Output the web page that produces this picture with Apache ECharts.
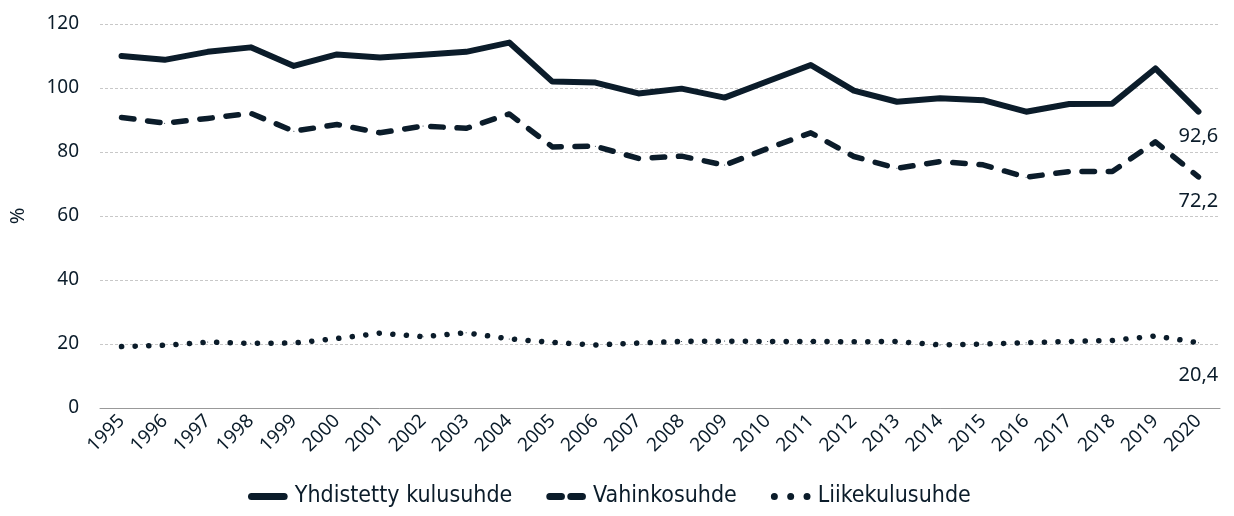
<!DOCTYPE html>
<html>
<head>
<meta charset="utf-8">
<script src="https://cdn.jsdelivr.net/npm/echarts@6/dist/echarts.min.js"></script>
<style>
html,body{margin:0;padding:0;background:#fff;}
#chart{width:1234px;height:516px;}
</style>
</head>
<body>
<div id="chart"></div>
<script>
const years = ['1995','1996','1997','1998','1999','2000','2001','2002','2003','2004','2005','2006','2007','2008','2009','2010','2011','2012','2013','2014','2015','2016','2017','2018','2019','2020'];
const yhdistetty = [110.0,108.8,111.3,112.7,106.9,110.5,109.5,110.4,111.3,114.2,102.0,101.7,98.3,99.8,97.0,102.1,107.2,99.2,95.7,96.8,96.2,92.6,95.0,95.1,106.1,92.6];
const vahinkosuhde = [90.8,89.0,90.5,92.1,86.5,88.6,86.0,88.1,87.4,91.9,81.6,81.8,78.0,78.7,75.9,81.1,86.0,78.6,74.9,77.0,76.0,72.1,73.9,73.9,83.2,72.2];
const liikekulusuhde = [19.2,19.6,20.6,20.2,20.3,21.7,23.4,22.3,23.5,21.6,20.5,19.7,20.3,20.8,20.9,20.8,20.8,20.7,20.8,19.7,20.0,20.4,20.8,21.1,22.5,20.4];
const seriesNames = ['Yhdistetty kulusuhde','Vahinkosuhde','Liikekulusuhde'];
const yTicks = {min:0, max:120, interval:20};

const C = '#0b1c2a';
const FONT = 'Noto Sans';
const LFONT = '"Liberation Sans Narrow", "DejaVu Sans Condensed", "Noto Sans"';

function withEndLabel(arr, dist){
  return arr.map((v,i)=> i===arr.length-1 ? {
    value:v,
    label:{show:true, position:'bottom', distance:dist, formatter:(p)=>String(p.value).replace('.',','), color:C, fontSize:20, fontFamily:FONT}
  } : v);
}

const icons = [
  'path://M3,0 H31 A3,3 0 0 1 31,6 H3 A3,3 0 0 1 3,0 Z',
  'path://M3,0 H13 A3,3 0 0 1 13,6 H3 A3,3 0 0 1 3,0 Z M21,0 H31 A3,3 0 0 1 31,6 H21 A3,3 0 0 1 21,0 Z',
  'path://M3,0 A3,3 0 1 1 3,6 A3,3 0 1 1 3,0 Z M17,0 A3,3 0 1 1 17,6 A3,3 0 1 1 17,0 Z M31,0 A3,3 0 1 1 31,6 A3,3 0 1 1 31,0 Z'
];

const chart = echarts.init(document.getElementById('chart'));
chart.setOption({
  animation:false,
  textStyle:{fontFamily:FONT, color:C},
  grid:{left:94, right:14, top:24, bottom:108},
  legend:{
    bottom:3, left:243,
    itemWidth:44, itemHeight:7, itemGap:34,
    textStyle:{fontSize:23, color:C, fontFamily:LFONT},
    lineStyle:{width:0, opacity:0},
    itemStyle:{color:C},
    data:seriesNames.map((n,i)=>({name:n, icon:icons[i]}))
  },
  xAxis:{
    type:'category', data:years, boundaryGap:true,
    axisLine:{show:true, lineStyle:{color:'#999', width:1}},
    axisTick:{show:false},
    axisLabel:{rotate:45, color:C, fontSize:19, fontFamily:FONT, margin:10, interval:0}
  },
  yAxis:{
    type:'value', min:yTicks.min, max:yTicks.max, interval:yTicks.interval,
    name:'%', nameLocation:'middle', nameGap:72, nameRotate:90,
    nameTextStyle:{fontSize:20, color:C, fontFamily:FONT},
    axisLine:{show:false}, axisTick:{show:false},
    axisLabel:{color:C, fontSize:19, fontFamily:FONT, margin:21},
    splitLine:{lineStyle:{color:'#c8c8c8', type:[3,2], width:1}}
  },
  series:[
    {name:seriesNames[0], type:'line', data:withEndLabel(yhdistetty, 14), symbol:'circle', symbolSize:1, showSymbol:true,
     lineStyle:{color:C, width:6, cap:'round', join:'round'}, itemStyle:{color:C}},
    {name:seriesNames[1], type:'line', data:withEndLabel(vahinkosuhde, 14), symbol:'circle', symbolSize:1, showSymbol:true,
     lineStyle:{color:C, width:5.5, type:[12.5,13.8], cap:'round', join:'round'}, itemStyle:{color:C}},
    {name:seriesNames[2], type:'line', data:withEndLabel(liikekulusuhde, 22), symbol:'circle', symbolSize:1, showSymbol:true,
     lineStyle:{color:C, width:5.5, type:[0.1,13.5], cap:'round', join:'round'}, itemStyle:{color:C}}
  ]
});
</script>
</body>
</html>
